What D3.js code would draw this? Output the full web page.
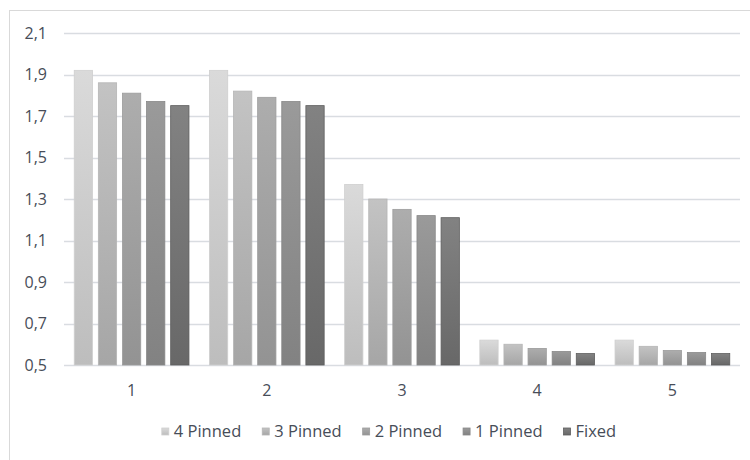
<!DOCTYPE html>
<html>
<head>
<meta charset="utf-8">
<script src="https://cdn.jsdelivr.net/npm/d3@7/dist/d3.min.js"></script>
<style>
  html, body { margin: 0; padding: 0; background: #fff; }
  svg { display: block; }
  text { font-family: "Open Sans", "Noto Sans", sans-serif; fill: #474d58; }
</style>
</head>
<body>
<svg id="chart" width="750" height="460"></svg>
<script>
const categories = ["1", "2", "3", "4", "5"];
const seriesNames = ["4 Pinned", "3 Pinned", "2 Pinned", "1 Pinned", "Fixed"];
const pinned4 = [1.92, 1.92, 1.37, 0.62, 0.62];
const pinned3 = [1.86, 1.82, 1.30, 0.60, 0.59];
const pinned2 = [1.81, 1.79, 1.25, 0.58, 0.57];
const pinned1 = [1.77, 1.77, 1.22, 0.565, 0.56];
const fixed   = [1.75, 1.75, 1.21, 0.555, 0.555];
const yTicks = [0.5, 0.7, 0.9, 1.1, 1.3, 1.5, 1.7, 1.9, 2.1];

const seriesValues = [pinned4, pinned3, pinned2, pinned1, fixed];
const colorsTop    = ["#dadada", "#c3c3c3", "#adadad", "#9a9a9a", "#828282"];
const colorsBottom = ["#bdbdbd", "#a6a6a6", "#939393", "#828282", "#686868"];
const colorsStroke = ["#cfcfcf", "#b5b5b5", "#9c9c9c", "#888888", "#5e5e5e"];
const textColor = "#474d58";

const svg = d3.select("#chart");

// chart area border
svg.append("rect")
  .attr("x", 9.5).attr("y", 10.5)
  .attr("width", 800).attr("height", 500)
  .attr("fill", "none").attr("stroke", "#d9d9d9").attr("stroke-width", 1);

const plot = { left: 64, right: 740, top: 33, bottom: 365 };

const y = d3.scaleLinear().domain([0.5, 2.1]).range([plot.bottom, plot.top]);
const x0 = d3.scaleBand().domain(categories).range([plot.left, plot.right])
  .paddingInner(0.144).paddingOuter(0.072);
const x1 = d3.scaleBand().domain(seriesNames).range([0, x0.bandwidth()])
  .paddingInner(0.2).paddingOuter(0);

// gradients
const defs = svg.append("defs");
seriesNames.forEach((s, i) => {
  const g = defs.append("linearGradient").attr("id", "grad" + i)
    .attr("x1", 0).attr("y1", 0).attr("x2", 0).attr("y2", 1);
  g.append("stop").attr("offset", "0%").attr("stop-color", colorsTop[i]);
  g.append("stop").attr("offset", "100%").attr("stop-color", colorsBottom[i]);
});

// gridlines
svg.append("g").selectAll("line").data(yTicks).join("line")
  .attr("x1", plot.left).attr("x2", plot.right)
  .attr("y1", d => Math.round(y(d)) + 0.5).attr("y2", d => Math.round(y(d)) + 0.5)
  .attr("stroke", "#d9dce1").attr("stroke-width", 1.3);

// y axis labels
const yAxis = d3.axisLeft(y).tickValues(yTicks).tickSize(0).tickPadding(0)
  .tickFormat(d => d3.format(".1f")(d).replace(".", ","));
const yg = svg.append("g").attr("transform", `translate(47,0)`).call(yAxis);
yg.select(".domain").remove();
yg.selectAll("text").style("font-size", "16px").attr("fill", textColor)
  .style("font-family", '"Open Sans", sans-serif');

// bars
const groups = svg.append("g").selectAll("g").data(categories).join("g")
  .attr("transform", d => `translate(${x0(d)},0)`);
groups.selectAll("rect")
  .data((c, ci) => seriesNames.map((s, si) => ({ s, si, v: seriesValues[si][ci] })))
  .join("rect")
  .attr("x", d => x1(d.s) + 0.5)
  .attr("y", d => y(d.v))
  .attr("width", x1.bandwidth() - 1)
  .attr("height", d => y(0.5) - y(d.v))
  .attr("fill", d => `url(#grad${d.si})`)
  .attr("stroke", d => colorsStroke[d.si])
  .attr("stroke-width", 0.8);

// x axis labels
const xAxis = d3.axisBottom(x0).tickSize(0).tickPadding(0);
const xg = svg.append("g").attr("transform", `translate(0,385)`).call(xAxis);
xg.select(".domain").remove();
xg.selectAll("text").style("font-size", "16px").attr("fill", textColor)
  .attr("dy", "0.71em")
  .style("font-family", '"Open Sans", sans-serif');

// legend
const legend = svg.append("g");
const items = legend.selectAll("g").data(seriesNames).join("g");
items.append("rect")
  .attr("width", 7).attr("height", 7).attr("y", -3)
  .attr("fill", (d, i) => `url(#grad${i})`)
  .attr("stroke", (d, i) => colorsStroke[i]).attr("stroke-width", 0.8);
items.append("text")
  .attr("x", 12).attr("y", 0).attr("dy", "0.35em")
  .attr("fill", textColor)
  .style("font-size", "16.5px").text(d => d);
const widths = [];
items.each(function () {
  widths.push(this.querySelector("text").getComputedTextLength() + 12);
});
const gap = 21;
const total = d3.sum(widths) + gap * (widths.length - 1);
let start = 389 - total / 2;
items.attr("transform", (d, i) => {
  const t = `translate(${start},431)`;
  start += widths[i] + gap;
  return t;
});
</script>
</body>
</html>
